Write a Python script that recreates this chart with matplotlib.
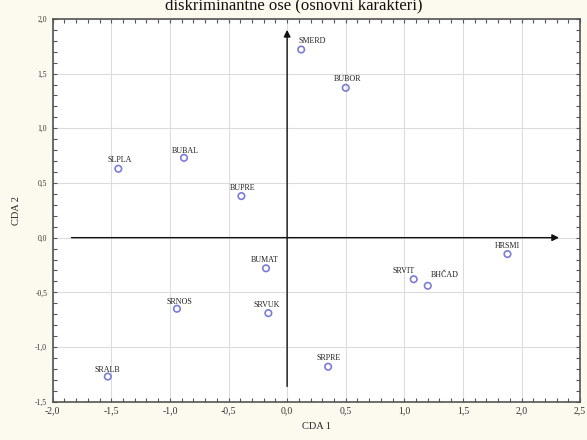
import matplotlib
matplotlib.use("Agg")
import matplotlib.pyplot as plt
from matplotlib.ticker import MultipleLocator, FuncFormatter

labels = ["SMERD", "BUBOR", "BUBAL", "SLPLA", "BUPRE", "HRSMI", "SRVIT", "BHČAD",
          "BUMAT", "SRNOS", "SRVUK", "SRPRE", "SRALB"]
cda1 = [0.12, 0.50, -0.88, -1.44, -0.39, 1.88, 1.08, 1.20, -0.18, -0.94, -0.16, 0.35, -1.53]
cda2 = [1.72, 1.37, 0.73, 0.63, 0.38, -0.15, -0.38, -0.44, -0.28, -0.65, -0.69, -1.18, -1.27]
label_dx = [8, 1, 1, 1, 1, 0, -7, 12, -1, 2, -1, 0, 0]
label_dy = [6, 6, 5, 6, 6, 6, 6, 8, 6, 5, 6, 6, 5]

title = "diskriminantne ose (osnovni karakteri)"
xlabel = "CDA 1"
ylabel = "CDA 2"

plt.rcParams['font.family'] = ['Liberation Serif', 'DejaVu Serif']

fig = plt.figure(figsize=(5.87, 4.40), dpi=100, facecolor="#fcf9ee")
ax = fig.add_axes([0.0898, 0.087, 0.8985, 0.870])
ax.set_facecolor("white")

ax.set_xlim(-2.0, 2.5)
ax.set_ylim(-1.5, 2.0)
ax.xaxis.set_major_locator(MultipleLocator(0.5))
ax.yaxis.set_major_locator(MultipleLocator(0.5))
ax.xaxis.set_minor_locator(MultipleLocator(0.1))
ax.yaxis.set_minor_locator(MultipleLocator(0.1))
fmt = FuncFormatter(lambda v, p: f"{v:.1f}".replace(".", ",").replace("-0,0", "0,0"))
ax.xaxis.set_major_formatter(fmt)
ax.yaxis.set_major_formatter(fmt)
ax.grid(True, which="major", color="#dcdcdc", linewidth=0.8)
ax.set_axisbelow(True)
ax.tick_params(which="both", direction="in", top=True, right=True, color="#555555",
               width=0.8, labelcolor="#333333")
ax.tick_params(which="major", length=3)
ax.tick_params(which="minor", length=3)
ax.tick_params(axis="x", labelsize=7, pad=3)
ax.tick_params(axis="y", labelsize=5.5, pad=4)
for s in ax.spines.values():
    s.set_color("#555555")
    s.set_linewidth(1.2)

# axis arrows
ax.annotate("", xy=(2.32, 0.0), xytext=(-1.84, 0.0),
            arrowprops=dict(arrowstyle="-|>", color="#111111", lw=1.0,
                            mutation_scale=10, shrinkA=0, shrinkB=0))
ax.annotate("", xy=(0.0, 1.90), xytext=(0.0, -1.36),
            arrowprops=dict(arrowstyle="-|>", color="#111111", lw=1.0,
                            mutation_scale=10, shrinkA=0, shrinkB=0))

ax.scatter(cda1, cda2, s=22, facecolors="none", edgecolors="#7b7bd8", linewidths=1.2, zorder=3)
for lab, x, y, dx, dy in zip(labels, cda1, cda2, label_dx, label_dy):
    ax.annotate(lab, (x, y), xytext=(dx, dy), textcoords="offset points",
                ha="center", va="center", fontsize=5.8, color="#222222")

ax.set_xlabel(xlabel, fontsize=7.5, color="#222222", labelpad=5)
ax.set_ylabel(ylabel, fontsize=7.5, color="#222222", labelpad=10)

fig.text(0.5, 1.0 - 5 / 440, title, ha="center", va="center", fontsize=12, color="#111111")

fig.savefig("out.png", dpi=100, facecolor=fig.get_facecolor())
